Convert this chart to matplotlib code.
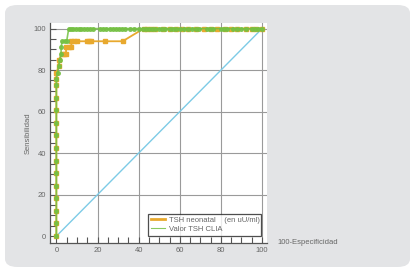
import matplotlib
matplotlib.use("Agg")
import matplotlib.pyplot as plt
from matplotlib.patches import FancyBboxPatch
import numpy as np

ORANGE = "#E8A92E"
GREEN = "#74C043"
BLUE = "#7DCBE6"
PANEL = "#E3E4E6"
TEXT = "#666666"

# ROC points (100-especificidad, sensibilidad)
steps_y = [0, 6.1, 12.1, 18.2, 24.2, 30.3, 36.4, 42.4, 48.5, 54.5, 60.6, 66.7, 72.7, 75.8, 78.8]

tsh_x = [0] * len(steps_y) + [1.1, 1.1, 2.8, 3.8, 4.7, 4.7, 6.0, 7.3, 7.3, 8.4, 10.0, 14.9, 16.0, 17.0,
                              23.5, 32.2, 42.4, 44.0, 46.0, 48.0, 52.0, 55.0, 58.0, 61.0, 64.0, 68.0,
                              72.0, 75.0, 78.0, 82.0, 85.0, 88.0, 92.0, 95.0, 97.0, 100.0]
tsh_y = steps_y + [81.8, 84.8, 87.9, 87.9, 87.9, 90.9, 90.9, 90.9, 93.9, 93.9, 93.9, 93.9, 93.9, 93.9,
                   93.9, 93.9, 100, 100, 100, 100, 100, 100, 100, 100, 100, 100,
                   100, 100, 100, 100, 100, 100, 100, 100, 100, 100]

clia_top = [6, 7, 8, 9.5, 11, 12, 13.5, 15, 16.5, 18, 21, 22.5, 24, 26, 27.5, 29, 30.5, 32, 33.5,
            36, 37.5, 40, 42, 43.5, 45, 46.5, 48, 50, 51.5, 53, 55, 56.5, 58, 60, 62, 64, 66, 68,
            69.5, 73, 74.5, 76, 80, 81.5, 83, 86, 88, 90, 92, 95, 96.5, 98, 100]
clia_x = [0] * (len(steps_y) - 1) + [0.6, 1.1, 1.7, 2.3, 2.3, 2.8, 4.0, 5.0] + clia_top
clia_y = steps_y[:-1] + [78.8, 81.8, 84.8, 87.9, 90.9, 93.9, 93.9, 93.9] + [100] * len(clia_top)

plt.rcParams["font.family"] = ["Liberation Sans", "DejaVu Sans"]

fig = plt.figure(figsize=(4.16, 2.72), dpi=100)
fig.patch.set_facecolor("white")
fig.patches.append(FancyBboxPatch((5 / 416, 5 / 272), 405 / 416, 262 / 272,
                                  boxstyle="round,pad=0,rounding_size=0.03",
                                  transform=fig.transFigure, facecolor=PANEL,
                                  edgecolor="none", zorder=-1))

ax = fig.add_axes([50 / 416, 29 / 272, 217 / 416, 220 / 272])
ax.set_zorder(2)
ax.set_facecolor("white")

for v in [20, 40, 60, 80, 100]:
    ax.axvline(v, color="#9A9A9A", lw=0.8, zorder=1)
    ax.axhline(v, color="#9A9A9A", lw=0.8, zorder=1)

ax.plot([0, 100], [0, 100], color=BLUE, lw=1.0, zorder=2)
ax.plot(tsh_x, tsh_y, color=ORANGE, lw=1.3, marker="s", ms=3.0, mec=ORANGE,
        label="TSH neonatal    (en uU/ml)", zorder=3)
ax.plot(clia_x, clia_y, color=GREEN, lw=1.2, marker="o", ms=2.6, mec=GREEN, alpha=0.85,
        label="Valor TSH CLIA", zorder=4)

ax.set_xlim(-3.1, 102.4)
ax.set_ylim(-3.3, 102.7)
ax.set_xticks(np.arange(0, 101, 20))
ax.set_yticks(np.arange(0, 101, 20))
ax.set_xticks(np.arange(0, 101, 5), minor=True)
ax.set_yticks(np.arange(0, 101, 5), minor=True)
ax.tick_params(which="both", direction="in", length=4, width=0.8, color="#555555",
               labelsize=5.5, labelcolor=TEXT, pad=3)
for s in ["top", "right"]:
    ax.spines[s].set_visible(False)
for s in ["left", "bottom"]:
    ax.spines[s].set_color("#555555")
    ax.spines[s].set_linewidth(0.9)

ax.set_ylabel("Sensibilidad", fontsize=5.5, color=TEXT, labelpad=1)
fig.text(277 / 416, 1 - 243 / 272, "100-Especificidad", fontsize=5.5, color=TEXT,
         ha="left", va="center")

leg = ax.legend(loc="lower left", bbox_to_anchor=(0.452, 0.032, 0.52, 0.1), mode="expand",
                fontsize=5.5, frameon=True, fancybox=False, borderpad=0.4,
                handlelength=1.8, handletextpad=0.5, labelspacing=0.2, borderaxespad=0)
leg.get_frame().set_edgecolor("#222222")
leg.get_frame().set_linewidth(0.9)
for t in leg.get_texts():
    t.set_color(TEXT)
lines = leg.get_lines()
lines[0].set_marker("")
lines[0].set_linewidth(2.0)
lines[1].set_marker("")
lines[1].set_linewidth(0.8)

fig.savefig("out.png", dpi=100, facecolor="white")
